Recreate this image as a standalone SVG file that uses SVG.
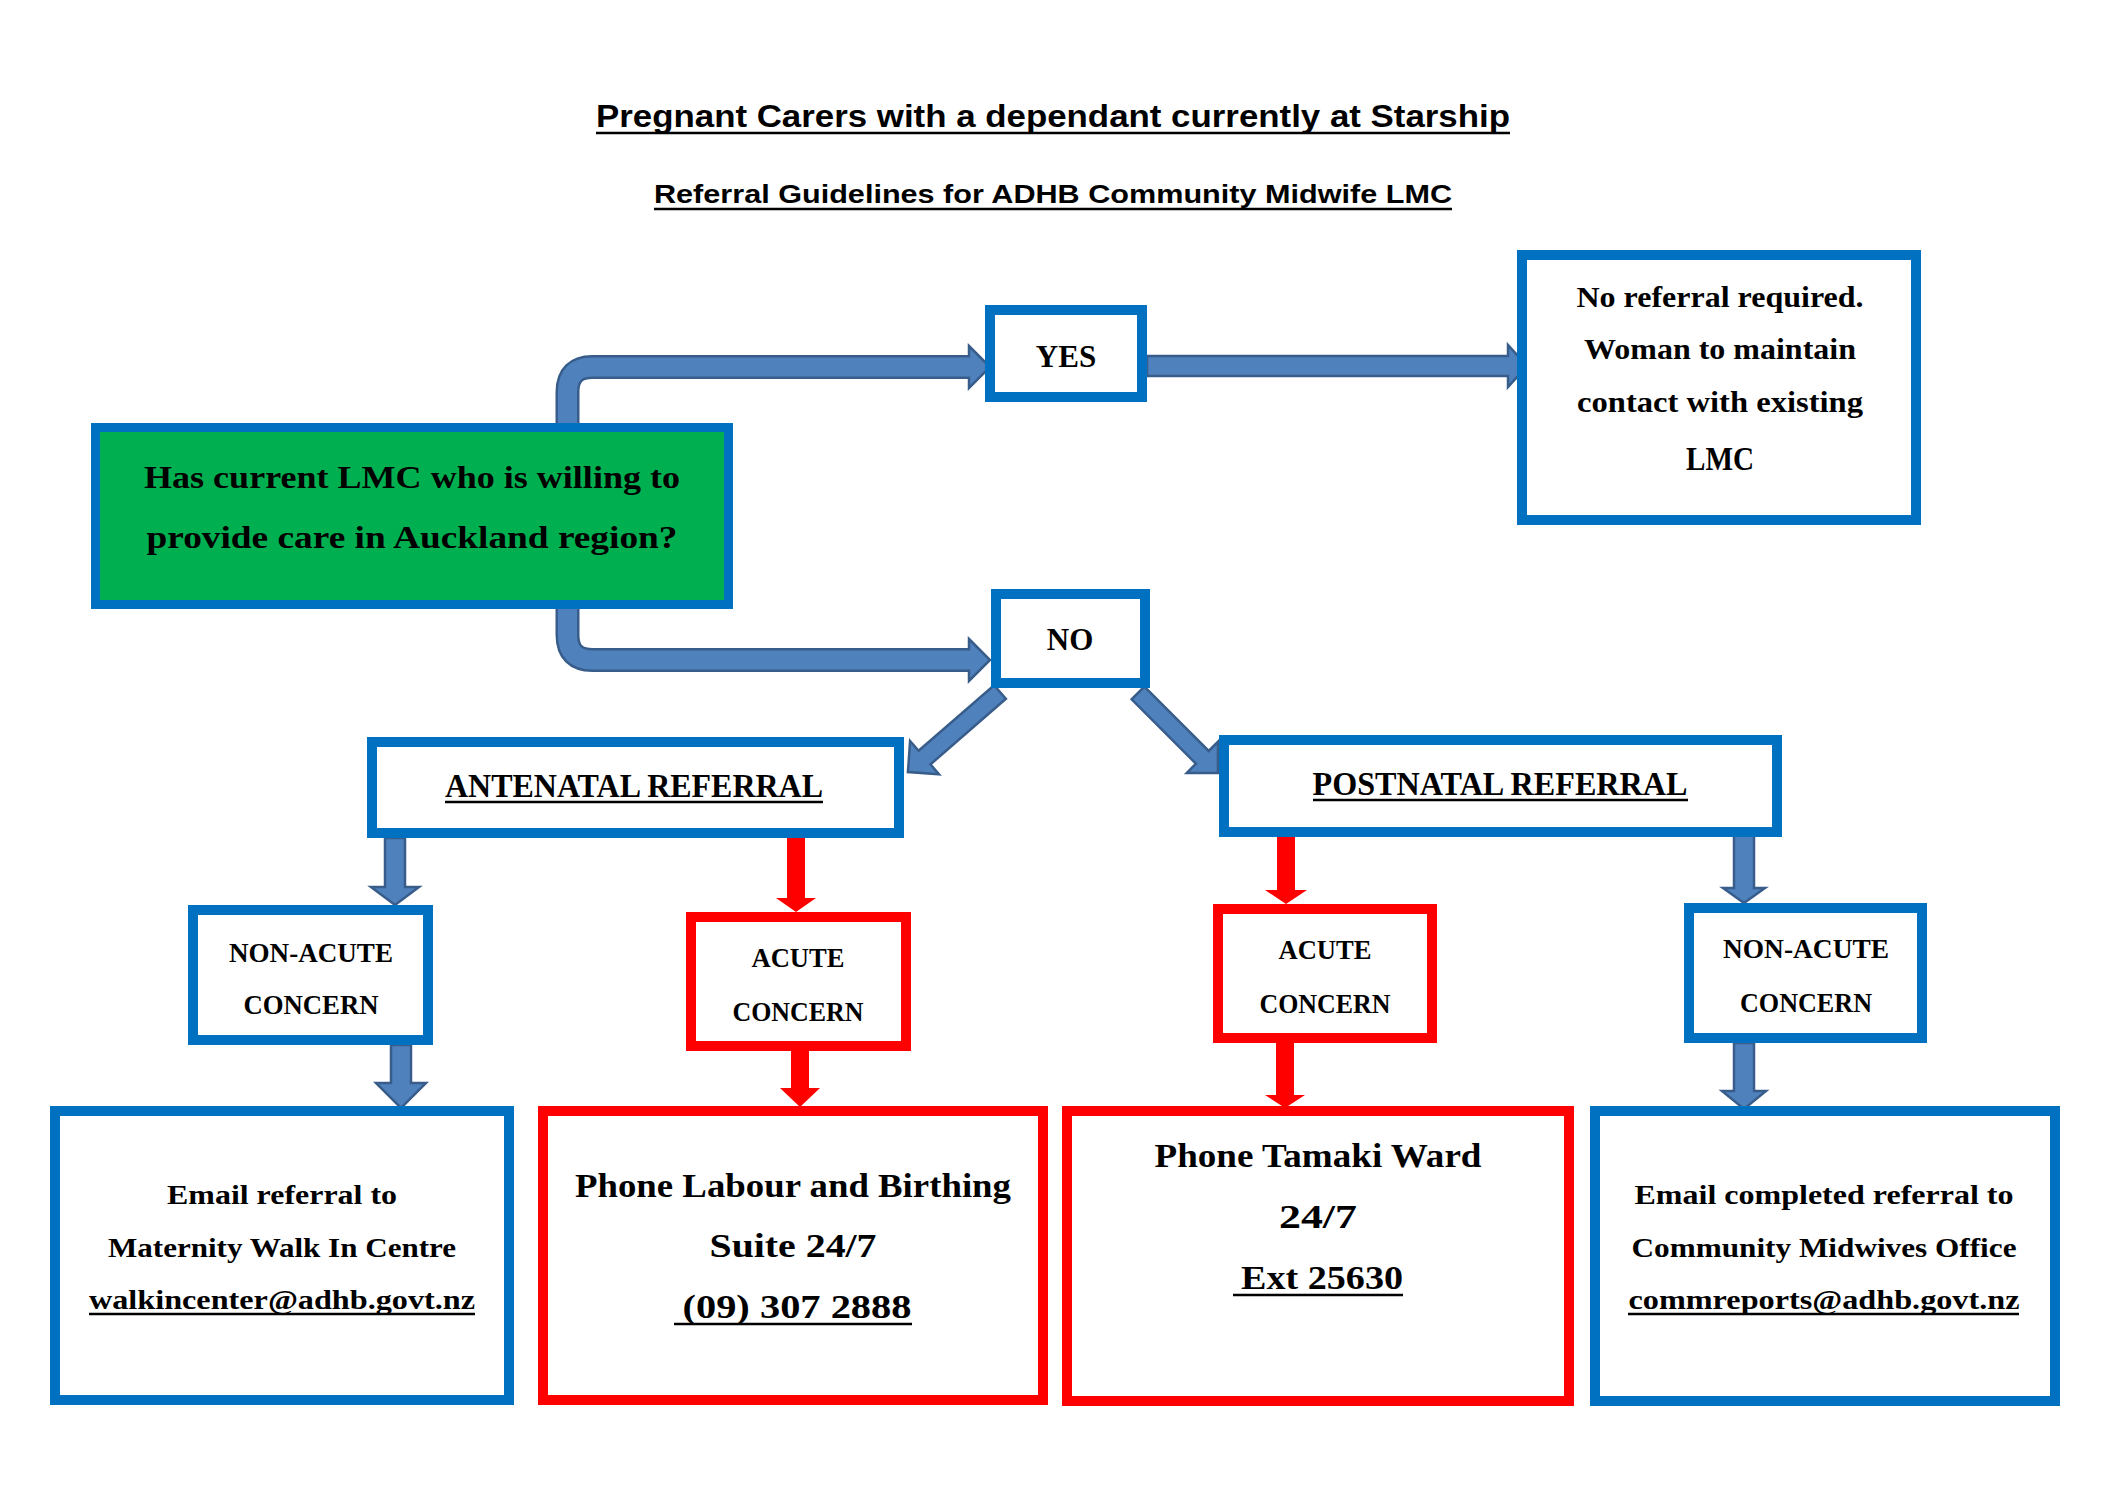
<svg xmlns="http://www.w3.org/2000/svg" width="2105" height="1488" viewBox="0 0 2105 1488">
<style>
.bg{fill:#ffffff}
.bx{fill:#ffffff;stroke:#0070C0;stroke-width:10}
.rx{fill:#ffffff;stroke:#FF0000;stroke-width:10}
.gx{fill:#00B050;stroke:#0070C0;stroke-width:9}
.t{font-family:"Liberation Serif","Times New Roman",serif;font-weight:bold;text-anchor:middle;fill:#000}
.h{font-family:"Liberation Sans",Arial,sans-serif;font-weight:bold;text-anchor:middle;fill:#000}
.ul{stroke:#000;stroke-width:2.5}
.ba{fill:#4F81BD;stroke:#385D8A;stroke-width:2.5;stroke-linejoin:miter}
.ra{fill:#FF0000}
.so{fill:none;stroke:#385D8A;stroke-width:24}
.si{fill:none;stroke:#4F81BD;stroke-width:19}
</style>
<rect class="bg" x="0" y="0" width="2105" height="1488"/>

<g id="titles">
<text class="h" x="1053" y="127" font-size="31" textLength="914" lengthAdjust="spacingAndGlyphs">Pregnant Carers with a dependant currently at Starship</text>
<line class="ul" x1="596" y1="133" x2="1510" y2="133"/>
<text class="h" x="1053" y="203" font-size="26" textLength="798" lengthAdjust="spacingAndGlyphs">Referral Guidelines for ADHB Community Midwife LMC</text>
<line class="ul" x1="654" y1="209" x2="1452" y2="209"/>
</g>

<g id="connectors">
<!-- bent arrow to YES -->
<path class="so" d="M567.5,424 V392 Q567.5,367 592.5,367 H972"/>
<polygon class="ba" points="969,346 990,367 969,388"/>
<path class="si" d="M567.5,428 V392 Q567.5,367 592.5,367 H973"/>
<!-- bent arrow to NO -->
<path class="so" d="M567.5,608 V635 Q567.5,660 592.5,660 H972"/>
<polygon class="ba" points="969,639 990,660 969,681"/>
<path class="si" d="M567.5,604 V635 Q567.5,660 592.5,660 H973"/>
<!-- YES to no referral -->
<polygon class="ba" points="1147,356 1508,356 1508,345 1527,366 1508,387 1508,376 1147,376"/>
<!-- NO diagonals -->
<polygon class="ba" transform="translate(1000,692) rotate(139)" points="0,-9 100,-9 100,-22 122,0 100,22 100,9 0,9"/>
<polygon class="ba" transform="translate(1138,693) rotate(45)" points="0,-9 91,-9 91,-22 113,0 91,22 91,9 0,9"/>
<!-- antenatal branches -->
<polygon class="ba" points="385,838 405,838 405,887 419,887 395,905 371,887 385,887"/>
<polygon class="ba" points="391,1045 411,1045 411,1083 426,1083 401,1108 376,1083 391,1083"/>
<polygon class="ra" points="787,838 805,838 805,898 816,898 796,912 776,898 787,898"/>
<polygon class="ra" points="791,1051 809,1051 809,1088 820,1088 800,1107 780,1088 791,1088"/>
<!-- postnatal branches -->
<polygon class="ra" points="1277,837 1295,837 1295,890 1307,890 1286,904 1265,890 1277,890"/>
<polygon class="ra" points="1276,1043 1294,1043 1294,1095 1305,1095 1285,1108 1265,1095 1276,1095"/>
<polygon class="ba" points="1734,834 1754,834 1754,888 1765,888 1744,903 1723,888 1734,888"/>
<polygon class="ba" points="1734,1043 1754,1043 1754,1091 1766,1091 1744,1109 1722,1091 1734,1091"/>
</g>

<g id="question">
<rect class="gx" x="95.5" y="427.5" width="633" height="177"/>
<text class="t" x="412" y="488" font-size="32" textLength="536" lengthAdjust="spacingAndGlyphs">Has current LMC who is willing to</text>
<text class="t" x="412" y="548" font-size="32" textLength="531" lengthAdjust="spacingAndGlyphs">provide care in Auckland region?</text>
</g>

<g id="yes">
<rect class="bx" x="990" y="310" width="152" height="87"/>
<text class="t" x="1066" y="367" font-size="31">YES</text>
</g>

<g id="no">
<rect class="bx" x="996" y="594" width="149" height="89"/>
<text class="t" x="1070" y="650" font-size="31">NO</text>
</g>

<g id="no-referral">
<rect class="bx" x="1522" y="255" width="394" height="265"/>
<text class="t" x="1720" y="307" font-size="29" textLength="287" lengthAdjust="spacingAndGlyphs">No referral required.</text>
<text class="t" x="1720" y="359" font-size="29" textLength="272" lengthAdjust="spacingAndGlyphs">Woman to maintain</text>
<text class="t" x="1720" y="412" font-size="29" textLength="286" lengthAdjust="spacingAndGlyphs">contact with existing</text>
<text class="t" x="1720" y="470" font-size="34" textLength="68" lengthAdjust="spacingAndGlyphs">LMC</text>
</g>

<g id="antenatal">
<rect class="bx" x="372" y="742" width="527" height="91"/>
<text class="t" x="634" y="797" font-size="33" textLength="378" lengthAdjust="spacingAndGlyphs">ANTENATAL REFERRAL</text>
<line class="ul" x1="445" y1="802" x2="823" y2="802"/>
</g>

<g id="postnatal">
<rect class="bx" x="1224" y="740" width="553" height="92"/>
<text class="t" x="1500" y="795" font-size="33" textLength="375" lengthAdjust="spacingAndGlyphs">POSTNATAL REFERRAL</text>
<line class="ul" x1="1313" y1="800" x2="1688" y2="800"/>
</g>

<g id="antenatal-nonacute">
<rect class="bx" x="193" y="910" width="235" height="130"/>
<text class="t" x="311" y="962" font-size="27" textLength="164" lengthAdjust="spacingAndGlyphs">NON-ACUTE</text>
<text class="t" x="311" y="1014" font-size="27" textLength="135" lengthAdjust="spacingAndGlyphs">CONCERN</text>
</g>

<g id="antenatal-acute">
<rect class="rx" x="691" y="917" width="215" height="129"/>
<text class="t" x="798" y="967" font-size="27" textLength="93" lengthAdjust="spacingAndGlyphs">ACUTE</text>
<text class="t" x="798" y="1021" font-size="27" textLength="131" lengthAdjust="spacingAndGlyphs">CONCERN</text>
</g>

<g id="postnatal-acute">
<rect class="rx" x="1218" y="909" width="214" height="129"/>
<text class="t" x="1325" y="959" font-size="27" textLength="93" lengthAdjust="spacingAndGlyphs">ACUTE</text>
<text class="t" x="1325" y="1013" font-size="27" textLength="131" lengthAdjust="spacingAndGlyphs">CONCERN</text>
</g>

<g id="postnatal-nonacute">
<rect class="bx" x="1689" y="908" width="233" height="130"/>
<text class="t" x="1806" y="958" font-size="27" textLength="166" lengthAdjust="spacingAndGlyphs">NON-ACUTE</text>
<text class="t" x="1806" y="1012" font-size="27" textLength="132" lengthAdjust="spacingAndGlyphs">CONCERN</text>
</g>

<g id="email-walkin">
<rect class="bx" x="55" y="1111" width="454" height="289"/>
<text class="t" x="282" y="1204" font-size="28" textLength="230" lengthAdjust="spacingAndGlyphs">Email referral to</text>
<text class="t" x="282" y="1257" font-size="28" textLength="348" lengthAdjust="spacingAndGlyphs">Maternity Walk In Centre</text>
<text class="t" x="282" y="1309" font-size="28" textLength="386" lengthAdjust="spacingAndGlyphs">walkincenter@adhb.govt.nz</text>
<line class="ul" x1="89" y1="1314" x2="475" y2="1314"/>
</g>

<g id="phone-birthing">
<rect class="rx" x="543" y="1111" width="500" height="289"/>
<text class="t" x="793" y="1197" font-size="34" textLength="436" lengthAdjust="spacingAndGlyphs">Phone Labour and Birthing</text>
<text class="t" x="793" y="1257" font-size="34" textLength="167" lengthAdjust="spacingAndGlyphs">Suite 24/7</text>
<text class="t" x="797" y="1318" font-size="34" textLength="229" lengthAdjust="spacingAndGlyphs">(09) 307 2888</text>
<line class="ul" x1="674" y1="1324" x2="912" y2="1324"/>
</g>

<g id="phone-tamaki">
<rect class="rx" x="1067" y="1111" width="502" height="290"/>
<text class="t" x="1318" y="1167" font-size="34" textLength="327" lengthAdjust="spacingAndGlyphs">Phone Tamaki Ward</text>
<text class="t" x="1318" y="1228" font-size="34" textLength="78" lengthAdjust="spacingAndGlyphs">24/7</text>
<text class="t" x="1322" y="1289" font-size="34" textLength="162" lengthAdjust="spacingAndGlyphs">Ext 25630</text>
<line class="ul" x1="1233" y1="1295" x2="1403" y2="1295"/>
</g>

<g id="email-community">
<rect class="bx" x="1595" y="1111" width="460" height="290"/>
<text class="t" x="1824" y="1204" font-size="28" textLength="379" lengthAdjust="spacingAndGlyphs">Email completed referral to</text>
<text class="t" x="1824" y="1257" font-size="28" textLength="385" lengthAdjust="spacingAndGlyphs">Community Midwives Office</text>
<text class="t" x="1824" y="1309" font-size="28" textLength="391" lengthAdjust="spacingAndGlyphs">commreports@adhb.govt.nz</text>
<line class="ul" x1="1628" y1="1314" x2="2019" y2="1314"/>
</g>
</svg>
